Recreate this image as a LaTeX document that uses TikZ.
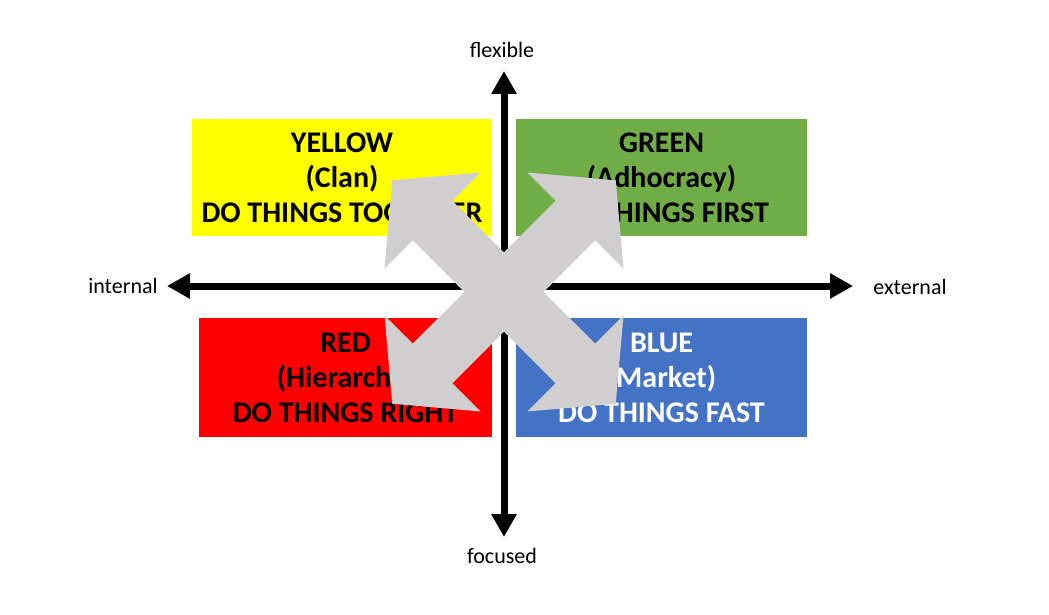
\documentclass[tikz,border=0pt]{standalone}
\usepackage{fontspec}
\setmainfont{Carlito}
\usepackage{tikz}
\usetikzlibrary{arrows.meta}
\definecolor{qyellow}{HTML}{FFFF00}
\definecolor{qgreen}{HTML}{70AD47}
\definecolor{qred}{HTML}{FF0000}
\definecolor{qblue}{HTML}{4472C4}
\definecolor{xgray}{HTML}{D0CECE}
\newcommand{\quadfont}{\fontsize{15}{17.5}\selectfont\bfseries}
\newcommand{\axfont}{\fontsize{11}{13}\selectfont}
\tikzset{
  quad/.style={inner sep=0pt,align=center,font=\quadfont},
  ax/.style={line width=3.5pt,-{Triangle[length=11.5pt,width=12pt]}},
  axl/.style={font=\axfont,inner sep=0pt},
  xarrow/.style={fill=xgray},
}

\begin{document}
\begin{tikzpicture}[x=0.5pt, y=-0.5pt]
  \useasboundingbox (0,0) rectangle (1049,615);
  % quadrants
  \node[quad, fill=qyellow, minimum width=150pt, minimum height=58.5pt] (yel) at (342,177.5)
    {YELLOW\\(Clan)\\DO THINGS TOGETHER};
  \node[quad, fill=qgreen, minimum width=145.5pt, minimum height=58pt] (grn) at (661.5,177.5)
    {GREEN\\(Adhocracy)\\DO THINGS FIRST};
  \node[quad, fill=qred, minimum width=146.5pt, minimum height=59.5pt] (red) at (345.5,377.5)
    {RED\\(Hierarchy)\\DO THINGS RIGHT};
  \node[quad, fill=qblue, text=white, minimum width=145.5pt, minimum height=59.5pt] (blu) at (661.5,377.5)
    {BLUE\\(Market)\\DO THINGS FAST};
  % axes
  \coordinate (o) at (504,286);
  \coordinate (top) at (504,71);
  \coordinate (bot) at (504,537);
  \coordinate (lft) at (167,286);
  \coordinate (rgt) at (853,286);
  \draw[ax] (o) -- (top);
  \draw[ax] (o) -- (bot);
  \draw[ax] (o) -- (lft);
  \draw[ax] (o) -- (rgt);
  \node[axl] (flex) at (502,50) {flexible};
  \node[axl] (foc) at (502,556) {focused};
  \node[axl] (int) at (123,286) {internal};
  \node[axl] (ext) at (910,287) {external};
  % big cross of arrows
  \foreach \r in {45,-45}
    \fill[xarrow, shift={(504,292)}, rotate=\r]
      (-158,0) -- (-101,68) -- (-101,28) -- (101,28) -- (101,68) -- (158,0)
      -- (101,-68) -- (101,-28) -- (-101,-28) -- (-101,-68) -- cycle;
\end{tikzpicture}
\end{document}
